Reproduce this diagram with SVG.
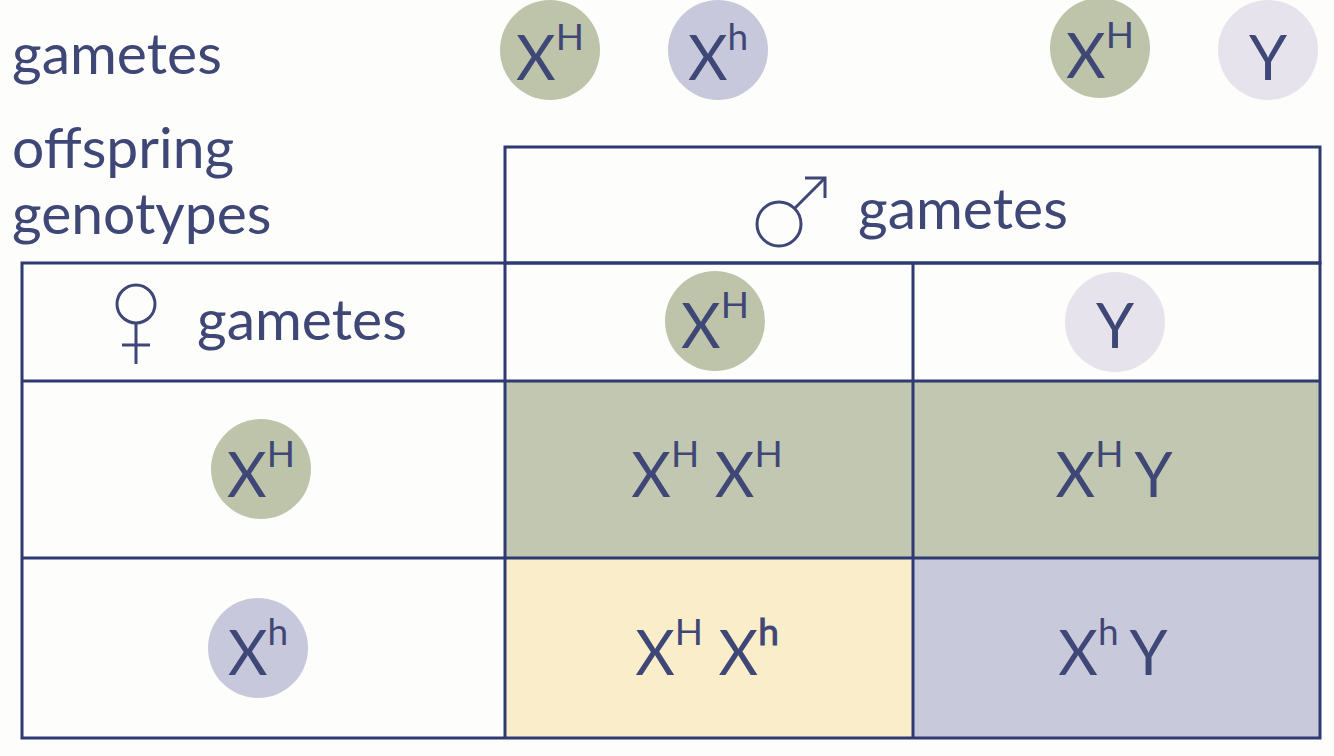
<svg xmlns="http://www.w3.org/2000/svg" width="1334" height="756" viewBox="0 0 1334 756">
<style>
text{font-family:Lato,"Liberation Sans",sans-serif;fill:#3f4777}
.lbl{font-size:57px}
.big{font-size:61px}
.sup{font-size:37px}
.grid{stroke:#2f3a72;stroke-width:3;fill:none}
.cg{fill:#bdc4aa}
.cp{fill:#c8c8dc}
.cy{fill:#e7e3ec}
</style>
<rect width="1334" height="756" fill="#fdfdfb"/>
<g id="labels">
<text class="lbl" x="12" y="74">gametes</text>
<text class="lbl" x="12" y="168">offspring</text>
<text class="lbl" x="12" y="234">genotypes</text>
</g>
<g id="top-gametes">
<circle class="cg" cx="550" cy="50" r="50"/>
<text class="big" x="550" y="80" text-anchor="middle">X<tspan class="sup" dy="-30">H</tspan></text>
<circle class="cp" cx="718" cy="50" r="50"/>
<text class="big" x="718" y="80" text-anchor="middle">X<tspan class="sup" dy="-30">h</tspan></text>
<circle class="cg" cx="1100" cy="48" r="50"/>
<text class="big" x="1100" y="78" text-anchor="middle">X<tspan class="sup" dy="-30">H</tspan></text>
<circle class="cy" cx="1268" cy="50" r="50"/>
<text class="big" x="1268" y="80" text-anchor="middle">Y</text>
</g>
<g id="cells">
<rect x="505" y="381" width="408" height="177" fill="#c1c7b1"/>
<rect x="913" y="381" width="407" height="177" fill="#c1c7b1"/>
<rect x="505" y="558" width="408" height="180" fill="#faedca"/>
<rect x="913" y="558" width="407" height="180" fill="#c9c9dc"/>
</g>
<g id="grid" class="grid">
<rect x="505" y="147" width="815" height="116"/>
<rect x="22" y="263" width="1298" height="475"/>
<line x1="505" y1="263" x2="505" y2="738"/>
<line x1="913" y1="263" x2="913" y2="738"/>
<line x1="22" y1="381" x2="1320" y2="381"/>
<line x1="22" y1="558" x2="1320" y2="558"/>
</g>
<g id="male-header">
<g stroke="#3f4777" stroke-width="3" fill="none">
<circle cx="779" cy="224" r="22"/>
<line x1="795" y1="208" x2="825" y2="178"/>
<polyline points="805,178 825,178 825,198"/>
</g>
<text class="lbl" x="858" y="229">gametes</text>
</g>
<g id="female-header">
<g stroke="#3f4777" stroke-width="3" fill="none">
<circle cx="136" cy="304" r="19"/>
<line x1="136" y1="323" x2="136" y2="364"/>
<line x1="122" y1="345" x2="150" y2="345"/>
</g>
<text class="lbl" x="197" y="340">gametes</text>
</g>
<g id="col-XH">
<circle class="cg" cx="715" cy="321" r="50"/>
<text class="big" x="715" y="348" text-anchor="middle">X<tspan class="sup" dy="-30">H</tspan></text>
</g>
<g id="col-Y">
<circle class="cy" cx="1115" cy="322" r="50"/>
<text class="big" x="1115" y="348" text-anchor="middle">Y</text>
</g>
<g id="row-XH">
<circle class="cg" cx="261" cy="469" r="50"/>
<text class="big" x="261" y="497" text-anchor="middle">X<tspan class="sup" dy="-30">H</tspan></text>
</g>
<g id="row-Xh">
<circle class="cp" cx="258" cy="648" r="50"/>
<text class="big" x="258" y="675" text-anchor="middle">X<tspan class="sup" dy="-30">h</tspan></text>
</g>
<g id="cell-XHXH">
<text class="big" x="707" y="497" text-anchor="middle">X<tspan class="sup" dy="-30">H</tspan><tspan dy="30"> X</tspan><tspan class="sup" dy="-30">H</tspan></text>
</g>
<g id="cell-XHY">
<text class="big" x="1114" y="497" text-anchor="middle">X<tspan class="sup" dy="-30">H</tspan><tspan dy="30" dx="11">Y</tspan></text>
</g>
<g id="cell-XHXh">
<text class="big" x="707" y="675" text-anchor="middle">X<tspan class="sup" dy="-30">H</tspan><tspan dy="30"> X</tspan><tspan class="sup" dy="-30" stroke="#3f4777" stroke-width="1">h</tspan></text>
</g>
<g id="cell-XhY">
<text class="big" x="1113" y="675" text-anchor="middle">X<tspan class="sup" dy="-30">h</tspan><tspan dy="30" dx="11">Y</tspan></text>
</g>
</svg>
